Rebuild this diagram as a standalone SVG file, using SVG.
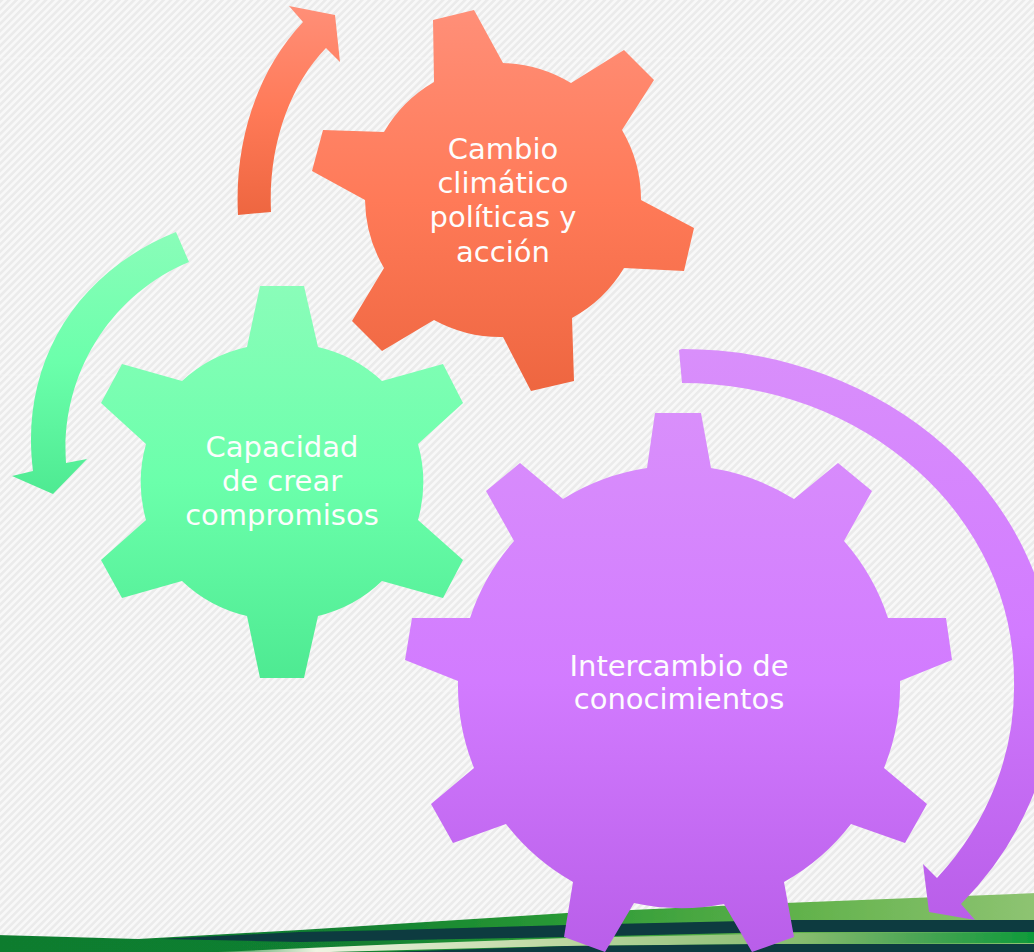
<svg xmlns="http://www.w3.org/2000/svg" width="1034" height="952" viewBox="0 0 1034 952">
<style>
text{font-family:"DejaVu Sans","Liberation Sans",sans-serif;font-size:29px;fill:#fdfdfd;text-anchor:middle}
.seam{stroke:#fbfbfb;stroke-width:1;stroke-opacity:.45}
</style>
<defs>
<pattern id="stripes" width="5.2" height="5.2" patternUnits="userSpaceOnUse" patternTransform="rotate(45)">
<rect width="5.2" height="5.2" fill="#f8f8f8"/><rect width="2.6" height="5.2" fill="#ebebeb"/>
</pattern>
<filter id="soft" x="-2%" y="-20%" width="104%" height="140%"><feGaussianBlur stdDeviation=".7"/></filter>
<linearGradient id="org" x1="0" y1="0" x2="0" y2="1"><stop offset="0" stop-color="#ff8f78"/><stop offset=".5" stop-color="#ff7a58"/><stop offset="1" stop-color="#ee6640"/></linearGradient>
<linearGradient id="grn" x1="0" y1="0" x2="0" y2="1"><stop offset="0" stop-color="#8afdb9"/><stop offset=".5" stop-color="#6bffab"/><stop offset="1" stop-color="#4eea92"/></linearGradient>
<linearGradient id="pur" x1="0" y1="0" x2="0" y2="1"><stop offset="0" stop-color="#d98ffb"/><stop offset=".5" stop-color="#d27bff"/><stop offset="1" stop-color="#b95ee9"/></linearGradient>
<linearGradient id="g1" x1="0" y1="0" x2="1" y2="0"><stop offset="0" stop-color="#0f7c2f"/><stop offset=".35" stop-color="#128030"/><stop offset=".55" stop-color="#2a9a35"/><stop offset=".78" stop-color="#64b34d"/><stop offset="1" stop-color="#8fc473"/></linearGradient>
<linearGradient id="g2" x1="218" y1="0" x2="1034" y2="0" gradientUnits="userSpaceOnUse"><stop offset="0" stop-color="#3a9a50"/><stop offset=".12" stop-color="#eef3e2"/><stop offset=".4" stop-color="#c0d9a5"/><stop offset=".72" stop-color="#86bc6e"/><stop offset=".85" stop-color="#4ea656"/><stop offset="1" stop-color="#0e9a3a"/></linearGradient>
</defs>
<g id="background">
<rect width="1034" height="952" fill="url(#stripes)"/>
<path class="seam" d="M0 58H1034M0 375H1034M0 691H1034"/>
<g filter="url(#soft)">
<path d="M-5 935L138 939L300 930L567 913L785 903L1040 893V960H-5Z" fill="url(#g1)"/>
<path d="M160 939L300 932L396 930L567 925L791 920L1040 920V932L780 932L567 937L300 942Z" fill="#083a40"/>
<path d="M218 952L400 944L567 938L800 933L1040 932V943L780 944L567 946L330 952Z" fill="url(#g2)"/>
<path d="M330 954L567 946L780 944L1040 944V960H330Z" fill="#083a40"/>
</g>
</g>
<g id="connectors">
<path id="arrow-orange" fill="url(#org)" d="M238 215C234 140 258 70 303 22L289 6L335 15L340 62L326 48C290 85 268 145 271 212Z"/>
<path id="arrow-green" fill="url(#grn)" d="M176 232L189 262C110 295 60 375 66 463L87 459L53 494L12 476L33 471C20 370 70 275 176 232Z"/>
<path id="arrow-purple" fill="url(#pur)" d="M679 350L682 383A332 297 0 0 1 1014 680A335 300 0 0 1 937 878L923 864L929 912L975 920L961 904A373 334 0 0 0 1055 683A373 334 0 0 0 682 349Z"/>
</g>
<g id="node-cambio">
<path fill="url(#org)" d="M434 82L433 20L474 10L503 63A138 138 0 0 1 571 83L624 50L654 80L622 130A138 138 0 0 1 641 200L694 228L684 271L624 268A138 138 0 0 1 572 318L574 381L531 391L503 337A138 138 0 0 1 434 320L382 351L352 321L384 268A138 138 0 0 1 365 200L312 171L323 130L384 132A138 138 0 0 1 434 82Z"/>
<text x="503" y="159">Cambio</text><text x="503" y="193">climático</text><text x="503" y="227">políticas y</text><text x="503" y="262">acción</text>
</g>
<g id="node-capacidad">
<path fill="url(#grn)" d="M247 347L260 286H304L318 347A140 140 0 0 1 382 381L443 364L463 403L418 444A140 140 0 0 1 418 520L463 560L443 598L382 581A140 140 0 0 1 318 616L304 678H260L247 616A140 140 0 0 1 182 581L122 598L101 560L146 520A140 140 0 0 1 146 444L101 403L122 364L182 381A140 140 0 0 1 247 347Z"/>
<text x="282" y="457">Capacidad</text><text x="282" y="491">de crear</text><text x="282" y="525">compromisos</text>
</g>
<g id="node-intercambio">
<path fill="url(#pur)" d="M647 468L655 413H701L711 468A221 221 0 0 1 794 499L838 463L872 491L844 541A221 221 0 0 1 888 618H946L952 660L900 681A221 221 0 0 1 884 768L927 804L905 843L851 824A221 221 0 0 1 784 882L794 937L752 952L724 904A221 221 0 0 1 634 903L605 952L564 937L573 882A221 221 0 0 1 506 824L453 843L431 804L474 768A221 221 0 0 1 458 681L405 660L412 618H470A221 221 0 0 1 514 541L486 491L520 463L563 499A221 221 0 0 1 647 468Z"/>
<text x="679" y="676">Intercambio de</text><text x="679" y="709">conocimientos</text>
</g>
</svg>
